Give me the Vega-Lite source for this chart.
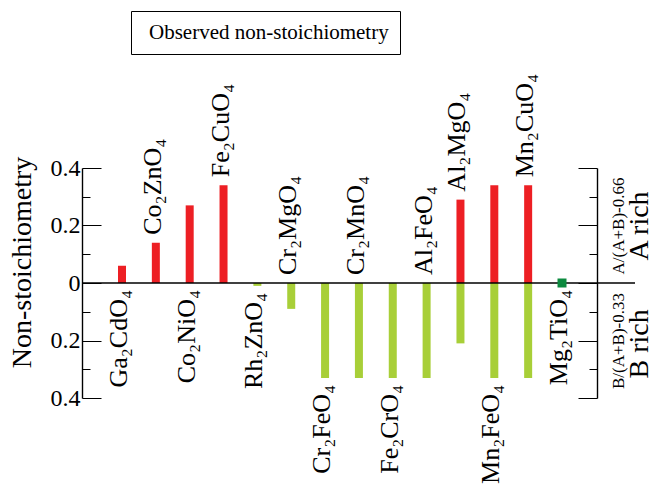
{
  "$schema": "https://vega.github.io/schema/vega-lite/v6.json",
  "width": 553,
  "height": 230,
  "autosize": {"type": "none"},
  "padding": {"left": 82, "top": 168, "right": 21, "bottom": 89},
  "background": "white",
  "config": {
    "view": {"stroke": null},
    "font": "Liberation Serif",
    "axis": {
      "grid": false,
      "labelFont": "Liberation Serif",
      "titleFont": "Liberation Serif",
      "labelColor": "black",
      "titleColor": "black",
      "domainColor": "black",
      "tickColor": "black",
      "domainWidth": 1.4,
      "tickWidth": 1,
      "labelOverlap": false,
      "labelFlush": false
    }
  },
  "datasets": {
    "spinels": [
      {"compound": "Ga₂CdO₄", "side": "bottom", "type": "A rich", "value": 0.06},
      {"compound": "Co₂ZnO₄", "side": "top", "type": "A rich", "value": 0.14},
      {"compound": "Co₂NiO₄", "side": "bottom", "type": "A rich", "value": 0.27},
      {"compound": "Fe₂CuO₄", "side": "top", "type": "A rich", "value": 0.34},
      {"compound": "Rh₂ZnO₄", "side": "bottom", "type": "B rich", "value": -0.01},
      {"compound": "Cr₂MgO₄", "side": "top", "type": "B rich", "value": -0.09},
      {"compound": "Cr₂FeO₄", "side": "bottom", "type": "B rich", "value": -0.33},
      {"compound": "Cr₂MnO₄", "side": "top", "type": "B rich", "value": -0.33},
      {"compound": "Fe₂CrO₄", "side": "bottom", "type": "B rich", "value": -0.33},
      {"compound": "Al₂FeO₄", "side": "top", "type": "B rich", "value": -0.33},
      {"compound": "Al₂MgO₄", "side": "top", "type": "A rich", "value": 0.29},
      {"compound": "Al₂MgO₄", "side": "top", "type": "B rich", "value": -0.21},
      {"compound": "Mn₂FeO₄", "side": "bottom", "type": "A rich", "value": 0.34},
      {"compound": "Mn₂FeO₄", "side": "bottom", "type": "B rich", "value": -0.33},
      {"compound": "Mn₂CuO₄", "side": "top", "type": "A rich", "value": 0.34},
      {"compound": "Mn₂CuO₄", "side": "top", "type": "B rich", "value": -0.33},
      {"compound": "Mg₂TiO₄", "side": "bottom", "type": "stoichiometric", "value": 0}
    ],
    "baseline": [{"level": 0}]
  },
  "layer": [
    {
      "data": {"name": "spinels"},
      "transform": [{"filter": "datum.type !== 'stoichiometric'"}],
      "mark": {"type": "bar", "width": 8},
      "encoding": {
        "x": {
          "field": "compound", "type": "nominal",
          "scale": {"type": "point", "domain": ["Ga₂CdO₄", "Co₂ZnO₄", "Co₂NiO₄", "Fe₂CuO₄", "Rh₂ZnO₄", "Cr₂MgO₄", "Cr₂FeO₄", "Cr₂MnO₄", "Fe₂CrO₄", "Al₂FeO₄", "Al₂MgO₄", "Mn₂FeO₄", "Mn₂CuO₄", "Mg₂TiO₄"], "padding": 0, "range": [40, 480]},
          "axis": null
        },
        "y": {
          "field": "value", "type": "quantitative", "stack": null,
          "scale": {"domain": [-0.4, 0.4], "nice": false},
          "axis": {
            "orient": "left",
            "values": [-0.4, -0.3, -0.2, -0.1, 0, 0.1, 0.2, 0.3, 0.4],
            "labels": false,
            "title": null,
            "tickSize": {"condition": {"test": "round(abs(datum.value) * 10) % 2 == 0", "value": -19}, "value": -8}
          }
        },
        "color": {
          "field": "type", "type": "nominal",
          "scale": {"domain": ["A rich", "B rich"], "range": ["#ed1f24", "#a8cf38"]},
          "legend": null
        }
      }
    },
    {
      "data": {"name": "baseline"},
      "mark": {"type": "rule", "color": "black", "strokeWidth": 1.4},
      "encoding": {
        "y": {
          "field": "level", "type": "quantitative",
          "axis": {
            "orient": "left",
            "values": [-0.4, -0.2, 0, 0.2, 0.4],
            "ticks": false,
            "domain": false,
            "labelExpr": "datum.value == 0 ? '0' : format(abs(datum.value), '.1f')",
            "labelFontSize": 24,
            "labelPadding": 2,
            "title": "Non-stoichiometry",
            "titleFontSize": 28,
            "titleFontWeight": "normal",
            "titlePadding": 14,
            "titleY": 94
          }
        }
      }
    },
    {
      "data": {"name": "spinels"},
      "transform": [{"filter": "datum.type === 'stoichiometric'"}],
      "mark": {"type": "point", "filled": true, "size": 81, "opacity": 1, "color": "#0c8a3f"},
      "encoding": {
        "x": {"field": "compound", "type": "nominal", "axis": null},
        "y": {
          "field": "value", "type": "quantitative",
          "axis": {
            "orient": "right",
            "offset": -38,
            "values": [-0.4, -0.3, -0.2, -0.1, 0, 0.1, 0.2, 0.3, 0.4],
            "labels": false,
            "title": null,
            "tickSize": {"condition": {"test": "round(abs(datum.value) * 10) % 2 == 0", "value": -19}, "value": -8}
          }
        },
        "shape": {
          "datum": "Observed non-stoichiometry", "type": "nominal",
          "scale": {"range": ["square"]},
          "legend": {
            "orient": "none",
            "legendX": 49,
            "legendY": -157,
            "title": null,
            "strokeColor": "black",
            "padding": 11,
            "symbolSize": 0,
            "symbolOpacity": 0,
            "labelOffset": -14,
            "labelFont": "Liberation Serif",
            "labelFontSize": 21,
            "labelColor": "black",
            "labelLimit": 0
          }
        }
      }
    },
    {
      "data": {"name": "spinels"},
      "transform": [
        {"aggregate": [{"op": "max", "field": "value", "as": "hi"}], "groupby": ["compound", "side"]},
        {"filter": "datum.side === 'top'"},
        {"calculate": "max(datum.hi, 0)", "as": "anchor"}
      ],
      "mark": {"type": "text", "angle": 270, "align": "left", "baseline": "alphabetic", "dx": 8, "dy": 5, "fontSize": 26, "font": "Liberation Serif", "color": "black"},
      "encoding": {
        "x": {"field": "compound", "type": "nominal", "axis": null},
        "y": {
          "field": "anchor", "type": "quantitative",
          "axis": {
            "orient": "right",
            "offset": -38,
            "values": [-0.2, 0.2],
            "ticks": false,
            "domain": false,
            "title": null,
            "labelExpr": "datum.value > 0 ? 'A/(A+B)-0.66' : 'B/(A+B)-0.33'",
            "labelAngle": 270,
            "labelAlign": "center",
            "labelBaseline": "top",
            "labelFontSize": 17,
            "labelPadding": 13
          }
        },
        "text": {"field": "compound"}
      }
    },
    {
      "data": {"name": "spinels"},
      "transform": [
        {"aggregate": [{"op": "min", "field": "value", "as": "lo"}], "groupby": ["compound", "side"]},
        {"filter": "datum.side === 'bottom'"},
        {"calculate": "min(datum.lo, 0)", "as": "anchor"}
      ],
      "mark": {"type": "text", "angle": 270, "align": "right", "baseline": "alphabetic", "dx": -7, "dy": 5, "fontSize": 26, "font": "Liberation Serif", "color": "black"},
      "encoding": {
        "x": {"field": "compound", "type": "nominal", "axis": null},
        "y": {
          "field": "anchor", "type": "quantitative",
          "axis": {
            "orient": "right",
            "offset": -38,
            "values": [-0.21, 0.2],
            "ticks": false,
            "domain": false,
            "title": null,
            "labelExpr": "datum.value > 0 ? 'A rich' : 'B rich'",
            "labelAngle": 270,
            "labelAlign": "center",
            "labelBaseline": "top",
            "labelFontSize": 28,
            "labelPadding": 28
          }
        },
        "text": {"field": "compound"}
      }
    }
  ],
  "resolve": {"axis": {"y": "independent"}}
}
